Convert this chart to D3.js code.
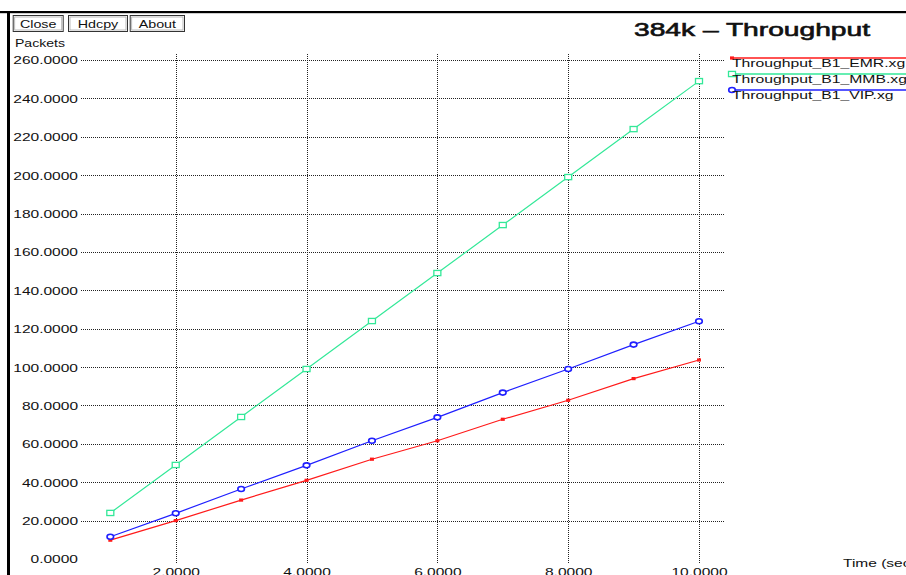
<!DOCTYPE html>
<html>
<head>
<meta charset="utf-8">
<script src="https://cdn.jsdelivr.net/npm/d3@7"></script>
<style>
  html, body { margin: 0; padding: 0; background: #fff; }
  svg { display: block; }
  text { font-family: "Liberation Sans", Arial, Helvetica, sans-serif; fill: #111; }
</style>
</head>
<body>
<svg id="chart" width="906" height="575"></svg>
<script>
// ---- data ----
const times = [1, 2, 3, 4, 5, 6, 7, 8, 9, 10];
const emrValues = [9.8, 20.0, 30.7, 41.0, 52.0, 61.6, 72.8, 82.7, 94.0, 103.7];
const mmbValues = [24.0, 49.0, 74.0, 99.0, 124.0, 149.0, 174.0, 199.0, 224.0, 249.0];
const vipValues = [11.6, 23.8, 36.5, 48.8, 61.6, 73.8, 86.7, 99.0, 111.7, 123.9];
const seriesNames = ["Throughput_B1_EMR.xg", "Throughput_B1_MMB.xg", "Throughput_B1_VIP.xg"];
const xTickValues = [2, 4, 6, 8, 10];
const yTickValues = [0, 20, 40, 60, 80, 100, 120, 140, 160, 180, 200, 220, 240, 260];
const buttonLabels = ["Close", "Hdcpy", "About"];
const titleText = "384k \u2013 Throughput";
const yUnitText = "Packets";
const xUnitText = "Time (sec";

const series = [
  { name: seriesNames[0], values: emrValues, color: "#ff1a1a", marker: "fillsq" },
  { name: seriesNames[1], values: mmbValues, color: "#33e898", marker: "hollowsq" },
  { name: seriesNames[2], values: vipValues, color: "#1f1fff", marker: "circle" }
];

const SX = 1.41; // horizontal stretch of the original screenshot text
const svg = d3.select("#chart");

function stretch(sel, k) {
  sel.each(function () {
    const w = this.getComputedTextLength();
    d3.select(this).attr("textLength", w * (k || SX)).attr("lengthAdjust", "spacingAndGlyphs");
  });
}

// frame
svg.append("rect").attr("x", 0).attr("y", 11).attr("width", 906).attr("height", 2.2).attr("fill", "#000");
svg.append("rect").attr("x", 7).attr("y", 11).attr("width", 3).attr("height", 564).attr("fill", "#000");

// scales
const plotLeft = 81, plotRight = 724, plotTop = 53, plotBottom = 563;
const x = d3.scaleLinear().domain([0, 10]).range([44.9, 699]);
const y = d3.scaleLinear().domain([0, 260]).range([559, 60]);

// y axis with grid
const yAxis = d3.axisLeft(y).tickValues(yTickValues)
  .tickSize(-(plotRight - plotLeft)).tickPadding(3)
  .tickFormat(d3.format(".4f"));
const gy = svg.append("g").attr("transform", `translate(${plotLeft},0)`).call(yAxis);
gy.select(".domain").remove();
gy.selectAll(".tick line").attr("stroke", "#222").attr("stroke-width", 1).attr("stroke-dasharray", "1,1")
  .attr("shape-rendering", "crispEdges")
  .filter(d => d === 0).remove();
gy.selectAll(".tick text").attr("font-size", 11).attr("fill", "#111").attr("dy", "0.36em")
  .attr("font-family", "Liberation Sans, Arial, sans-serif").call(stretch);

// x axis with grid
const xAxis = d3.axisBottom(x).tickValues(xTickValues)
  .tickSize(-(plotBottom - plotTop)).tickPadding(5)
  .tickFormat(d3.format(".4f"));
const gx = svg.append("g").attr("transform", `translate(0,${plotBottom})`).call(xAxis);
gx.select(".domain").remove();
gx.selectAll(".tick line").attr("stroke", "#222").attr("stroke-width", 1).attr("stroke-dasharray", "1,1")
  .attr("shape-rendering", "crispEdges");
gx.selectAll(".tick text").attr("font-size", 11).attr("fill", "#111")
  .attr("font-family", "Liberation Sans, Arial, sans-serif").call(stretch);

// lines and markers
const line = d3.line().x((d, i) => x(times[i])).y(d => y(d));
series.forEach(s => {
  svg.append("path").datum(s.values).attr("d", line)
    .attr("fill", "none").attr("stroke", s.color).attr("stroke-width", 1.2);
  const g = svg.append("g");
  s.values.forEach((v, i) => drawMarker(g, x(times[i]), y(v), s));
});

function drawMarker(g, cx, cy, s) {
  if (s.marker === "fillsq") {
    g.append("rect").attr("x", cx - 2).attr("y", cy - 1.6).attr("width", 4).attr("height", 3.2).attr("fill", s.color);
  } else if (s.marker === "hollowsq") {
    g.append("rect").attr("x", cx - 3.5).attr("y", cy - 2.6).attr("width", 7).attr("height", 5.2)
      .attr("fill", "#fff").attr("stroke", s.color).attr("stroke-width", 1.3);
  } else {
    g.append("ellipse").attr("cx", cx).attr("cy", cy).attr("rx", 3.3).attr("ry", 2.5)
      .attr("fill", "#fff").attr("stroke", s.color).attr("stroke-width", 1.6);
  }
}

// legend
const legendY = [58, 74, 90];
series.forEach((s, i) => {
  const ly = legendY[i];
  svg.append("line").attr("x1", 731).attr("x2", 906).attr("y1", ly).attr("y2", ly)
    .attr("stroke", s.color).attr("stroke-width", 1.5);
  const g = svg.append("g");
  drawMarker(g, 732, ly, s);
  svg.append("text").attr("x", 732).attr("y", ly + 9).attr("font-size", 11).text(s.name).call(stretch, 1.43);
});

// title
svg.append("text").attr("x", 634).attr("y", 36).attr("font-size", 18)
  .attr("stroke", "#111").attr("stroke-width", 0.6)
  .attr("textLength", 236).attr("lengthAdjust", "spacingAndGlyphs").text(titleText);

// units
svg.append("text").attr("x", 15).attr("y", 46.5).attr("font-size", 11)
  .attr("textLength", 50).attr("lengthAdjust", "spacingAndGlyphs").text(yUnitText);
svg.append("text").attr("x", 843).attr("y", 567).attr("font-size", 11).text(xUnitText).call(stretch);

// buttons
const btnBoxes = [[12.7, 63.7], [68, 128], [129.7, 185]];
buttonLabels.forEach((b, i) => {
  const [x0, x1] = btnBoxes[i];
  svg.append("rect").attr("x", x0 + 0.5).attr("y", 15.5).attr("width", x1 - x0 - 1).attr("height", 16)
    .attr("fill", "#fff").attr("stroke", "#333").attr("stroke-width", 1);
  svg.append("rect").attr("x", x0 + 2).attr("y", 17).attr("width", x1 - x0 - 4).attr("height", 13)
    .attr("fill", "none").attr("stroke", "#aaa").attr("stroke-width", 0.8);
  svg.append("text").attr("x", (x0 + x1) / 2).attr("y", 28.3).attr("text-anchor", "middle")
    .attr("font-size", 11).text(b).call(stretch, 1.3);
});
</script>
</body>
</html>
